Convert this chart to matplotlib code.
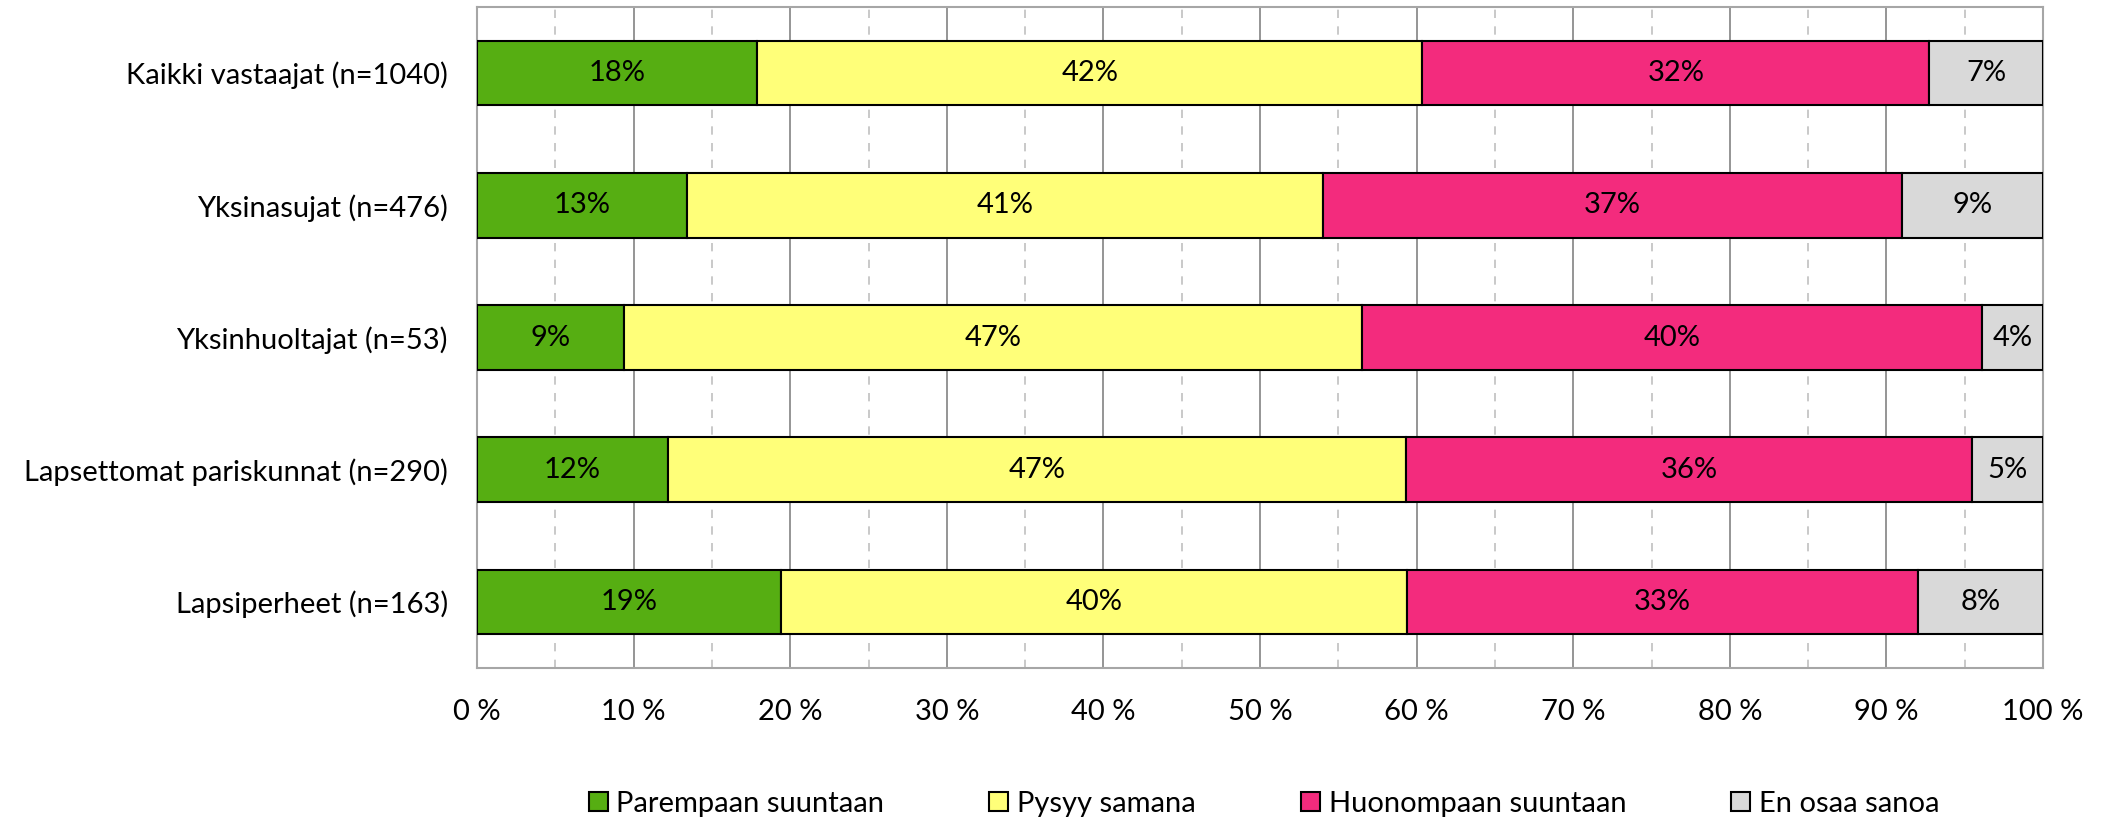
import matplotlib.pyplot as plt
from matplotlib.ticker import MultipleLocator, FuncFormatter

# data (percent)
groups = ['Kaikki vastaajat (n=1040)', 'Yksinasujat (n=476)', 'Yksinhuoltajat (n=53)',
          'Lapsettomat pariskunnat (n=290)', 'Lapsiperheet (n=163)']
series_names = ['Parempaan suuntaan', 'Pysyy samana', 'Huonompaan suuntaan', 'En osaa sanoa']
parempaan = [17.9, 13.4, 9.4, 12.2, 19.4]
pysyy = [42.45, 40.6, 47.1, 47.15, 40.0]
huonompaan = [32.4, 37.0, 39.6, 36.1, 32.6]
en_osaa = [7.25, 9.0, 3.9, 4.55, 8.0]
colors = ['#56AE12', '#FFFF79', '#F32B7D', '#D9D9D9']

plt.rcParams['font.family'] = ['Lato', 'DejaVu Sans']
fs = 21

fig = plt.figure(figsize=(21.08, 8.19), dpi=100)
ax = fig.add_axes([477/2108, 1-668/819, (2043-477)/2108, (668-7)/819])

ypos = list(range(len(groups)))
left = [0.0] * len(groups)
for name, vals, col in zip(series_names, [parempaan, pysyy, huonompaan, en_osaa], colors):
    bars = ax.barh(ypos, vals, left=left, height=0.49, color=col, edgecolor='black',
                   linewidth=1.5, label=name, zorder=3)
    for b, v in zip(bars, vals):
        ax.text(b.get_x() + b.get_width()/2, b.get_y() + b.get_height()/2,
                '%d%%' % int(v + 0.5), ha='center', va='center', fontsize=fs, zorder=4)
    left = [l + v for l, v in zip(left, vals)]

ax.set_xlim(0, 100)
ax.set_ylim(len(groups) - 0.5, -0.5)
ax.set_yticks(ypos)
ax.set_yticklabels(groups, fontsize=fs)
ax.xaxis.set_major_locator(MultipleLocator(10))
ax.xaxis.set_minor_locator(MultipleLocator(5))
ax.xaxis.set_major_formatter(FuncFormatter(lambda x, p: '%d %%' % x))
ax.tick_params(axis='x', which='both', length=0, labelsize=fs, pad=22)
ax.tick_params(axis='y', length=0, pad=21)
ax.grid(axis='x', which='major', color='#8C8C8C', linewidth=1.3, zorder=0)
ax.grid(axis='x', which='minor', color='#C0C0C0', linewidth=1.2, linestyle=(0, (5, 5)), zorder=0)
ax.set_axisbelow(True)
for s in ax.spines.values():
    s.set_color('#A6A6A6')
    s.set_linewidth(1.5)

fig.legend(loc='center', bbox_to_anchor=(1264/2108, 1-804/819), ncol=4, frameon=False,
           fontsize=fs, handlelength=0.65, handleheight=0.65, handletextpad=0.3,
           columnspacing=3.6, borderpad=0)

fig.savefig('out.png', dpi=100)
